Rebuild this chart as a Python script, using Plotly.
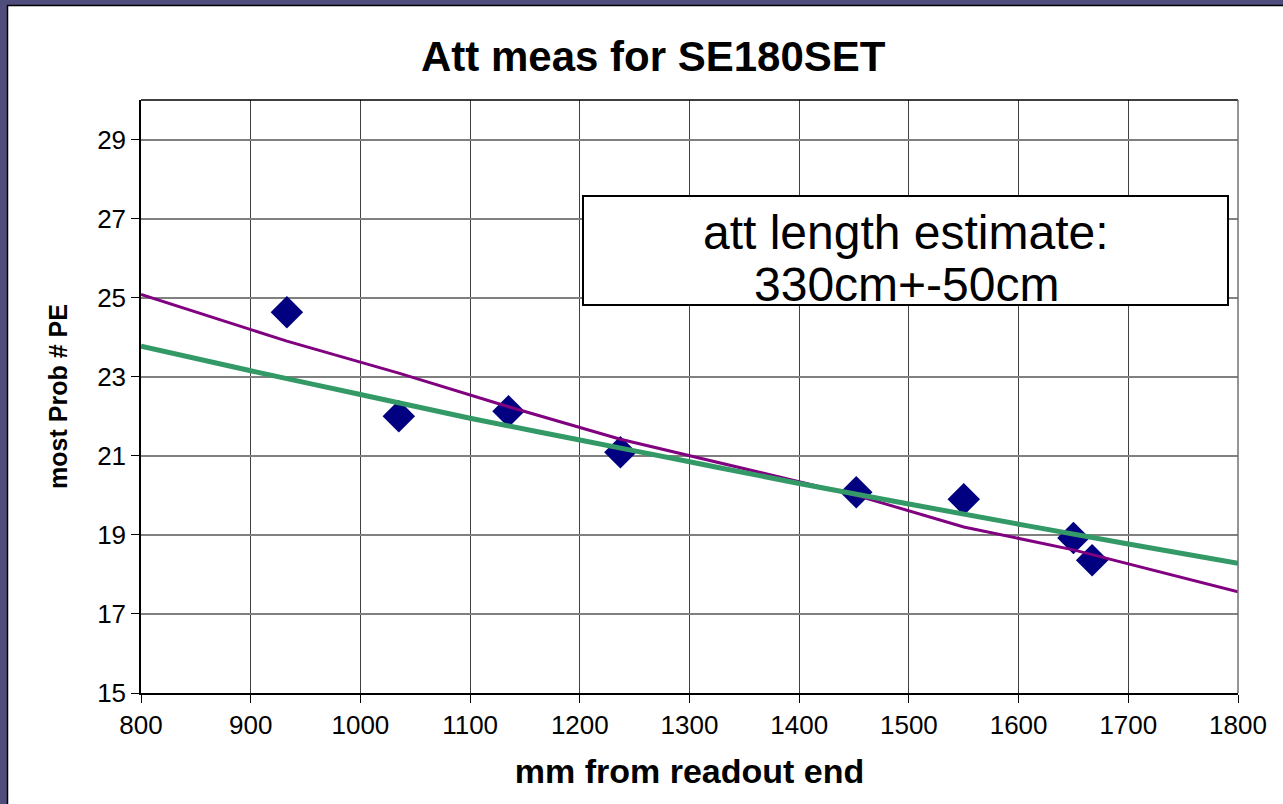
import plotly.graph_objects as go

# ---------------- data ----------------
dist_mm = [933, 1035, 1135, 1237, 1452, 1550, 1650, 1667]
most_prob_pe = [24.63, 22.0, 22.13, 21.09, 20.08, 19.9, 18.92, 18.36]

purple_x = [800, 933, 1035, 1135, 1237, 1452, 1550, 1650, 1800]
purple_y = [25.08, 23.90, 23.09, 22.24, 21.42, 20.0, 19.2, 18.62, 17.56]

green_x = [800, 900, 1000, 1100, 1200, 1300, 1400, 1500, 1600, 1700, 1800]
green_y = [23.77, 23.15, 22.55, 21.95, 21.4, 20.85, 20.3, 19.78, 19.27, 18.77, 18.28]

x_ticks = [800, 900, 1000, 1100, 1200, 1300, 1400, 1500, 1600, 1700, 1800]
y_ticks = [15, 17, 19, 21, 23, 25, 27, 29]

title_text = "Att meas for SE180SET"
x_title = "mm from readout end"
y_title = "most Prob # PE"
box_lines = ["att length estimate:", "330cm+-50cm"]

# ---------------- layout constants ----------------
W, H = 1283, 804
L, R, T, B = 141, 45, 100, 111
PW, PH = W - L - R, H - T - B


def px(xp):
    return (xp - L) / PW


def py(yp):
    return 1 - (yp - T) / PH


FONT = "Liberation Sans, Arial, sans-serif"

fig = go.Figure()

fig.add_trace(go.Scatter(
    x=dist_mm, y=most_prob_pe, mode="markers",
    marker=dict(symbol="diamond", size=25, color="#000080",
                line=dict(width=0)),
    showlegend=False, hoverinfo="x+y"))

fig.add_trace(go.Scatter(
    x=purple_x, y=purple_y, mode="lines",
    line=dict(color="#800080", width=3),
    showlegend=False))

fig.add_trace(go.Scatter(
    x=green_x, y=green_y, mode="lines",
    line=dict(color="#339966", width=5, shape="spline"),
    showlegend=False))

shapes = [
    # slide frame: left and top strips
    dict(type="rect", xref="paper", yref="paper",
         x0=px(0), x1=px(7), y0=py(H), y1=py(0),
         fillcolor="#4f4d7b", line=dict(width=0), layer="above"),
    dict(type="rect", xref="paper", yref="paper",
         x0=px(0), x1=px(W), y0=py(5), y1=py(0),
         fillcolor="#4f4d7b", line=dict(width=0), layer="above"),
    dict(type="line", xref="paper", yref="paper",
         x0=px(7.5), x1=px(7.5), y0=py(5), y1=py(H),
         line=dict(color="black", width=1.5), layer="above"),
    dict(type="line", xref="paper", yref="paper",
         x0=px(7), x1=px(W), y0=py(5.5), y1=py(5.5),
         line=dict(color="black", width=1.5), layer="above"),
    # plot-area top border
    dict(type="line", xref="paper", yref="paper",
         x0=0, x1=1, y0=1, y1=1,
         line=dict(color="black", width=1.5), layer="above"),
    # plot-area right border
    dict(type="line", xref="paper", yref="paper",
         x0=1, x1=1, y0=0, y1=1,
         line=dict(color="#707070", width=1.5), layer="above"),
    # text box
    dict(type="rect", xref="paper", yref="paper",
         x0=px(583), x1=px(1228), y0=py(305), y1=py(196),
         fillcolor="white", line=dict(color="black", width=2),
         layer="above"),
]

annotations = [
    dict(text=f"<b>{title_text}</b>", xref="paper", yref="paper",
         x=px(653), y=py(57), showarrow=False, xanchor="center",
         yanchor="middle", font=dict(family=FONT, size=42, color="black")),
    dict(text=box_lines[0], xref="paper", yref="paper",
         x=px(906), y=py(232), showarrow=False, xanchor="center",
         yanchor="middle",
         font=dict(family=FONT, size=48, color="black")),
    dict(text=box_lines[1], xref="paper", yref="paper",
         x=px(906), y=py(284), showarrow=False, xanchor="center",
         yanchor="middle",
         font=dict(family=FONT, size=48, color="black")),
]

fig.update_layout(
    width=W, height=H,
    margin=dict(l=L, r=R, t=T, b=B, autoexpand=False),
    paper_bgcolor="white", plot_bgcolor="white",
    shapes=shapes, annotations=annotations,
    font=dict(family=FONT, color="black"),
    xaxis=dict(
        range=[800, 1800], tickmode="array", tickvals=x_ticks,
        showgrid=True, gridcolor="#404040", gridwidth=1,
        showline=True, linecolor="black", linewidth=1.5,
        ticks="outside", ticklen=8, tickcolor="black", tickwidth=1,
        tickfont=dict(family=FONT, size=26, color="black"),
        zeroline=False,
        title=dict(text=f"<b>{x_title}</b>", standoff=20,
                   font=dict(family=FONT, size=34, color="black")),
    ),
    yaxis=dict(
        range=[15, 30], tickmode="array", tickvals=y_ticks,
        showgrid=True, gridcolor="#808080", gridwidth=1.5,
        showline=True, linecolor="black", linewidth=1.5,
        ticks="outside", ticklen=8, tickcolor="black", tickwidth=1,
        tickfont=dict(family=FONT, size=26, color="black"),
        zeroline=False,
        title=dict(text=f"<b>{y_title}</b>", standoff=22,
                   font=dict(family=FONT, size=25, color="black")),
    ),
)

fig.write_html("out.html")
